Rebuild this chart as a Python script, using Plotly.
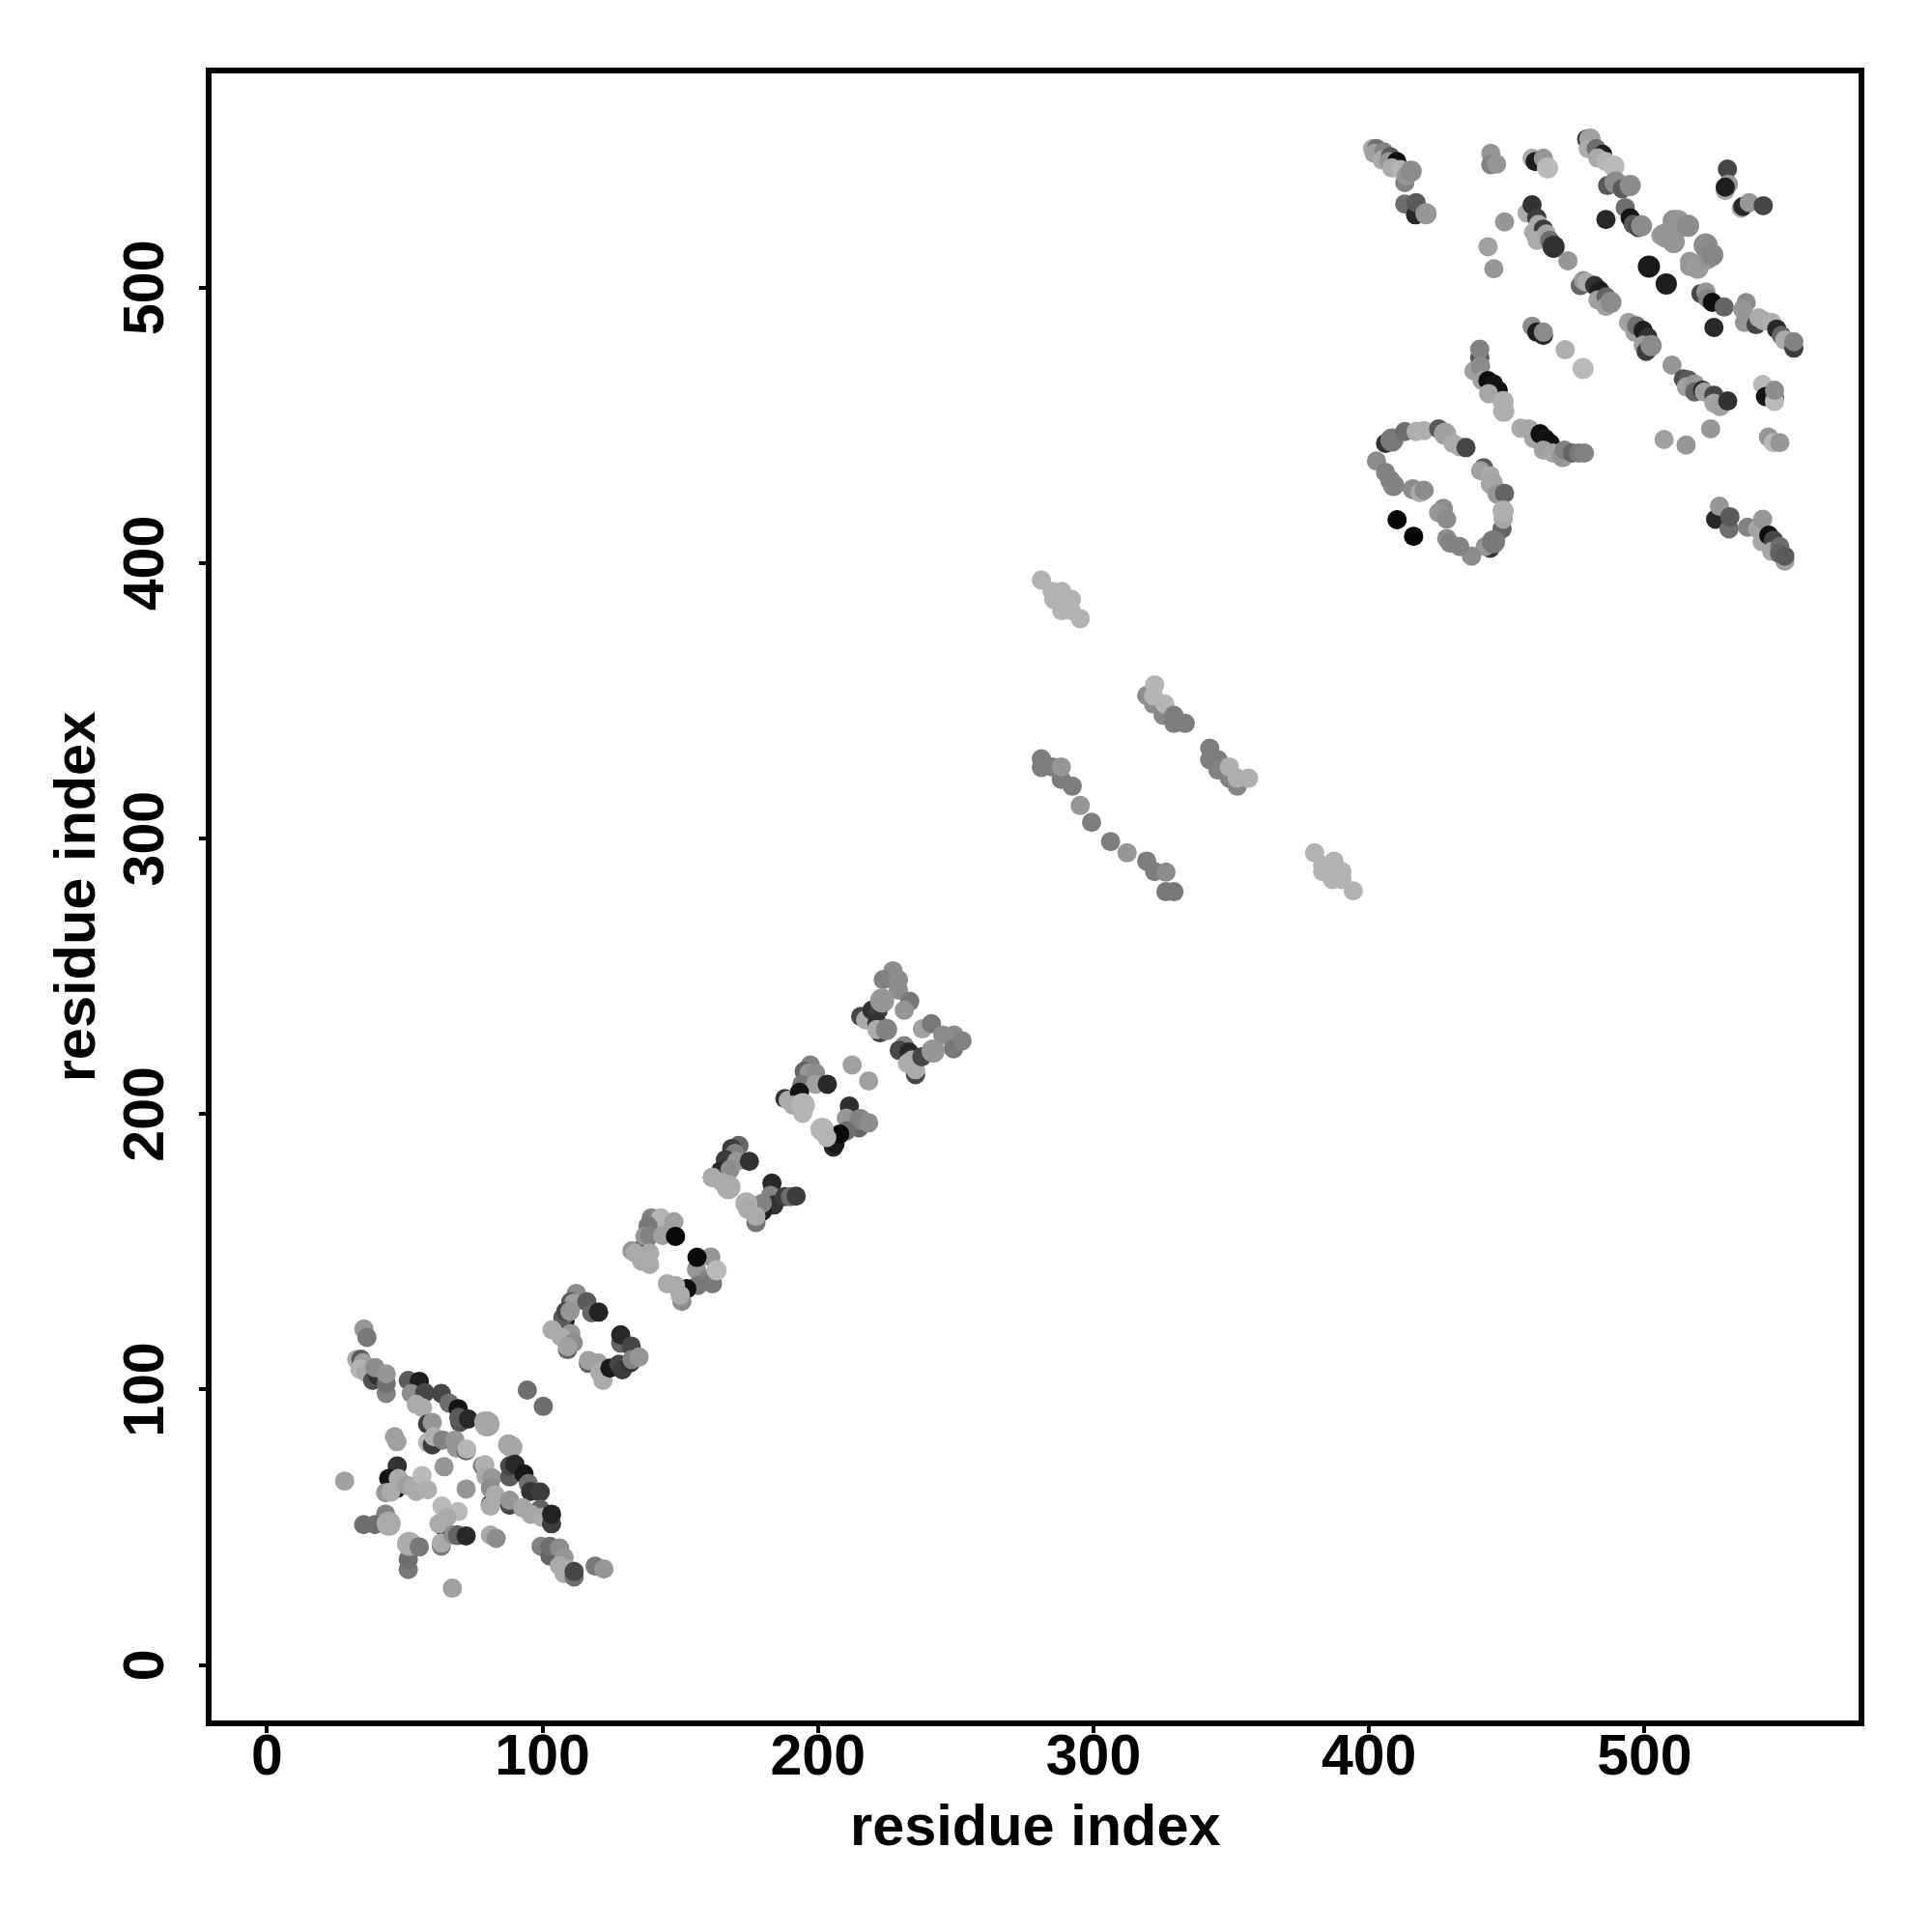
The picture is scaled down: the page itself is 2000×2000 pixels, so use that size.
import plotly.graph_objects as go

# (residue i, residue j, grey shade[, marker size])
cluster_low_a = [
(35.2,122,150),(36.3,118.9,120),(32.6,110.9,170),(34.1,111,90),(34.9,109.7,160),(33.7,107.4,180),(36,106.2,170),
(38.4,103.3,80),(40.2,105.1,50),(39.2,108,140),(43.3,98.6,130),(43.3,102.2,110),(43.3,105.7,150),
(51.3,103.3,90),(55.3,103,30),(52.4,98.6,140),(57.3,98.9,70),(63.3,98.6,70),(66.1,95.1,110),(69.4,93.1,20),
(54.2,94.6,170),(56.5,93.4,170),(58.3,87.5,60),(60,88.1,150),(70,88.1,80),(69.6,89.9,90),(73.1,89.3,40),
(78.7,88.5,165),(79.9,87.5,165,26),(87.7,79.9,165,22),(88.9,79.1,165,22),(46.3,82.9,160),(47.2,81.1,160),
(58.3,80.8,180),(60,79.9,60),(60.6,82.9,175),(63.8,81.7,130),(68.2,81.7,150),(68.8,78.8,150),(72.3,77.8,90),(72.5,78.4,180),
(64.3,72,150),(47.3,72.3,50),(44.2,67.7,20),(47.2,64.2,20),(47.7,67.7,170),(43.1,62.6,150),(45,62.8,170),
(50.7,65.3,160),(53,64.7,170),(54.2,63,170),(56.3,68.8,185),(58.3,63.6,175),(28.2,66.8,160),(72.3,63.9,150),
]
cluster_low_b = [
(78.2,72.3,130),(79.1,72.7,175),(79.5,68.5,170),(81.7,68,150),(81.1,64.2,140),(81.1,58.3,70),(81.1,57.7,170),(82.8,61.8,170),
(88.1,68.3,90),(88.1,72.3,70),(90,72.9,40),(93.3,69.4,25),(94.9,65.9,110),(95.7,63,50),(99.2,62.8,60),
(88.1,58,70),(88.1,59.8,150),(92.8,57.1,165),(99.2,56.6,100),(95.7,54.8,165),(99.8,53.6,170),(103.3,51.3,60),(103.3,54.8,35),
(43.1,54.8,130),(35.1,51,110),(39.2,51,110),(44.2,51.3,170,25),
(65.3,47.8,20),(63.5,57.7,185),(69.4,55.7,185),(65.3,53.6,170),(62.4,51.3,170),(63.3,43.2,120),(63.3,44.3,170),(69,47.2,30),(67.6,47.2,140),(69.2,47,100),(72.3,46.9,40),
(81.1,47.2,170),(83.2,46,140),(51.3,34.7,120),(51.3,38.4,110),(51.6,44,170,25),(55.3,42.9,120),(67.3,27.9,160),
(99.5,43.1,130),(102.7,39.6,100),(102.7,43.1,110),(106.2,42.5,140),(107.9,39,150),(106.2,36.1,170),(109.1,34.9,170),(107.9,33.2,170),(111.5,32,110),(111.5,34,70),(119.1,35.9,120),(122.3,34.9,150),
]
cluster_strand_1 = [
(94.5,99.8,110),(100.3,93.9,110),(112.3,134.9,140),(110.3,131.9,90),(111.4,131.4,160),(116.1,131.9,90),(117.9,127.9,100),(120.4,128.1,35),
(108.2,125,25),(107.4,126.1,90),(108.5,128.4,70),(110,128.4,150),(103.5,121.7,170),(110.3,120.3,150),(106.8,119.1,170),(109.1,114.5,100),(111.2,117,140),(109.1,115.6,160),
(116.7,109.5,100),(116.7,110.6,160),(120.2,109.7,160),(120.8,106.2,170),(122,103.3,170),(124.5,107.8,25),
(128.4,116.8,100),(128.4,119.9,40),(132.2,115.8,70),(127.8,109.2,70),(129,107.2,60),(131.9,109.7,50),(132.5,110.9,130),(135.1,111.8,150),
]
cluster_strand_2 = [
(137.2,152.4,20),(139.5,162.3,130),(143,162.3,180),(138.3,159.4,120),(147.7,160.9,160),(137.2,155.6,150),(138.9,155.9,130),(143.6,155.9,160),(148.3,155.6,10),
(132.5,150.4,150),(133.7,149.5,170),(136,146.6,170),(138.9,149.5,170),(138.9,145.4,170),
(161.1,148.1,150),(155.9,143.6,150),(156.1,148,10),(160,140.1,130),(156.4,137.8,120),(161.7,138.4,120),(163.2,143.3,185,21),(152.4,136.6,15),
(145.3,138.4,170),(148.3,137.8,170),(150.6,132,140),(150,134.3,170),
]
cluster_strand_3 = [
(171.3,188.6,100),(168.7,187.5,60),(169.9,185.7,130),(166.4,183.4,60),(170.5,182.8,150),(175.1,182.8,50),(164.6,179.3,40),(168.1,179.9,140),
(161.7,177,110),(161.7,177,170),(165.2,175.2,170),(167.5,173.5,170,25),
(183.3,174.9,40),(182.8,170.5,130),(184,167,50),(188,170,60),(190,170,110),(192.1,170.2,60),(179.8,164.7,30),(179.8,167.6,130),
(174,167.6,175,23),(174.6,165.3,170),(177.5,160.6,120),(177.5,162.9,170),
]
cluster_strand_4 = [
(197.2,217.8,130),(195,215.5,100),(196.8,214.9,150),(199.1,214.9,140),(194.2,210.8,120),(199.1,210.8,160),(203.4,210.8,40),
(188,205.6,50),(189.2,205,170),(193.3,207.9,20),(191,203.2,170),(194.5,203.2,180,25),(194.5,200.3,180),
(211.4,202.9,45),(210.3,198.5,150),(214.9,195,100),(215.3,198,130,22),(218.4,196.8,140),(210.3,193.9,110),
(205.6,188,40),(206.2,189.2,25),(207.9,192.7,10),(201.5,194.5,180,24),(203.2,191.5,180),(212.4,217.8,160),(218.4,212,160),
]
cluster_strand_5 = [
(227.2,252,140),(223.7,248.8,130),(229.2,248.8,140),(229.2,245,140),(233.3,240.9,120),(231.3,237.7,150),
(215.5,235.4,70),(217.3,234.2,170),(219.6,237.7,50),(221.9,237.7,60),(223.3,241.2,150,25),(221.4,233,50),(222.5,229.5,60),(221.4,230.7,170),(224.9,230.7,130,22),
(237.9,230.9,160),(241.2,232.8,120),(245.3,228.7,140),(249.4,228.7,140),(249.2,223.7,120),(252.3,226.6,130),
(231.3,224.8,130),(229.5,223.1,70),(233,222.5,40),(235.4,214.3,70),(232.5,218.4,170),(234.2,219.6,170),(235.4,216.1,170),(237.7,220.8,70),(241.8,222.9,150,24),
]
cluster_middle = [
(281.1,393.8,178),(285,389.7,178),(288.5,389.7,178),(285.6,386.8,178),(292,386.8,178),(288.5,385.6,178),(288.5,382.7,178),(292,382.7,178),(295.2,379.8,178),
(319.3,351.9,140),(321.8,348.8,140),(325.3,344.7,135),(322.2,355.8,180),(321.8,351.7,180),(325.9,348.8,180),(329.2,344.7,125),(329.2,341.8,125),(333.3,341.8,125),
(342.2,332.8,125),(342.2,328.6,125),(345.2,328.6,125),(345.2,324.8,130),(349.3,321.9,130),(352.2,319,135),(349.3,326,175),(352.2,321.9,175),(356.3,321.9,175),
(281.1,328.9,125),(281.1,325.8,125),(285,326,125),(288.3,321.5,125),(288.3,326,150),(292.3,319,125),(295.2,312,150),(299.3,305.9,125),(306.2,298.9,125),(312.2,294.8,150),
(319.3,291.8,125),(322.2,288,125),(326.3,280.7,120),(329.2,280.7,120),(326.3,287.8,140),
(380.3,294.8,178),(383.2,290.3,178),(387.3,291.8,178),(383.2,288,178),(386.7,288.6,178),(390.2,288,178),(386.7,285.1,178),(390.2,285.1,178),(394.3,281,178),
]
cluster_upper_a = [
(401.3,550.4,170),(402.7,550.4,110),(401.9,548.7,160),(405.4,549.2,130),(404.8,546.3,170),(407.7,547.5,90),(407.2,545.7,150),(410.1,545.7,15),(408.3,543.4,170),
(413,538.1,130),(411.3,542.8,180),(413.6,540.5,150),(415.3,542.2,140,22),(413,530.3,110),(416.9,526.4,40),(417.1,530.8,90),(420.7,526.8,150,22),
(444.2,548.7,150),(444.2,544.6,130),(446.3,544.8,150),(459.2,546.9,170),(460.3,545.7,30),(463.3,546.9,150),(464.8,543.4,185,22),
(457.4,527,170),(459.2,530,50),(460.9,525.3,60),(459.8,520,170),(461.5,522.9,170),(463.3,521.2,60),(461,517.1,170),(464.4,519.4,165),(465.6,517.1,110),(467,514.8,50,23),
(449.2,523.8,150),(443.2,514.8,160),(445.3,506.8,150),(472.2,509.7,150),
(459.2,485.9,140),(463.3,482.6,40),(460.9,483.8,30),(463.3,483.8,140),(471.2,477.4,175),(477.7,470.6,185,22),
]
cluster_upper_b = [
(479,553.9,60),(480.2,553.9,160,22),(479.6,550.4,170),(482.5,550.4,110),(484.8,548.3,30),(483,547,170),(486,545.7,180),(488.9,544,185,22),
(486.6,537,90),(489.5,538.1,140,23),(491.9,535.8,90),(494.8,537,140,22),(493,529,110),(494.8,525.3,20),(495.9,522.9,90),(497.7,521.8,70),(498.9,522.4,140,22),(486,524.7,40),
(505.9,518.9,160),(510.6,516.5,150,23),(507.6,518.9,150,25),(510.6,524.1,145,23),(512.4,524.7,150),(511.1,520.6,150,23),(515.8,522.4,140,23),
(516.4,509.5,150),(516.4,507.7,150),(519.3,507.2,155,23),(522.8,510.7,150,23),(522.2,515.3,140,25),(524.6,511.8,135,23),
(501.6,507.6,25,23),(507.9,501.3,30,22),(520.5,497.8,70),(522.3,498.4,150),(522.8,496.1,130),(524.6,494.6,15),(528.9,492.9,100),(525.2,485.5,40),
(536.9,494.5,140),(535.7,492,150),(536.3,487.3,150),(540.5,486.5,70),(541.5,489,170),(543.3,487.9,170),(546.2,487.3,175),(548,484.9,40),(549.7,482.6,100),(550.9,480.9,170),(554.2,478,60),(554.2,480.3,130),
(530.1,543,70),(530.4,537.5,150),(529.3,535.2,170),(529.3,536.4,30),(535.1,528.8,170),(535.7,529.4,40),(538,530.8,150),(543.1,529.7,70),
(476.7,500.7,100),(477.8,502.5,150),(479,501.9,170),(481.9,500.7,50),(483.7,499,30),(483.1,495.5,160),(486,496.6,100),(486,493.1,160),(487.8,494.6,140,22),
(494.2,487.3,160),(496.5,483.8,160),(497.1,486.1,110),(499.5,484.4,30),(501.2,482,50),(499.5,479.1,160),(500.6,476.8,60),(502.4,478.9,140,22),
]
cluster_upper_c = [
(440.2,474.4,90),(440.2,477.6,130),(438.1,469.7,160),(440.5,471.5,140),(441.1,466.2,160),(443.2,466.2,15),(445.2,465,20),(446.9,462.7,20),(443.4,461.5,165),(448.7,458.6,175,22),(448.9,455.1,175,22),
(455.1,448.9,170),(458,448.7,165),(459.8,445.2,165),(462.1,446.9,15),(463.9,445.2,20),(465.8,443.4,15),(463.3,441,160),(466.8,439.9,165),(470.3,438.7,150,22),(470.9,441,130),(473.8,439.9,100),(476.1,439.9,120),(478.2,439.9,130),
(406,443.4,50),(408.3,444.6,120,24),(413,447.7,110),(417.1,447.7,175),(420,448.1,175),(425.3,448.7,90),(427.6,446.9,160,23),(430.5,443.4,170),(432.9,442.2,170),(435.2,441.9,70),
(402.7,437,140),(406,432.9,130),(407.7,430,130,21),(408.9,428.2,130,22),(415.9,426.8,140,21),(418.5,425.5,170),(420,426.4,140),
(441.6,434.6,90),(440.5,433.5,160),(444,431.7,170),(444.6,428.8,165,23),(446.5,425,150),(449.2,425.3,100),(448.3,412.4,100),(448.7,415.9,165),(448.7,418.9,175,22),
(444,405.4,50),(442.2,406,150),(445.2,407.7,120,24),(437.2,402.5,140),(427,419.8,140),(425.3,418.3,150),(428.2,415.9,140),(428.2,408.9,140),(429.4,407.2,130),(432.9,406,130),
(410.2,415.7,5),(416.2,409.7,5),
]
cluster_upper_d = [
(510,471.8,150),(514.1,466.8,80),(515.9,466.5,90),(515.2,463.9,160),(518.2,465,150),(518.2,462.1,100),(521.1,462.7,40),(521.7,462.1,160),(525.2,460.9,70),(525.2,458,165),(527.5,456.8,160),(530.2,458.8,50),
(542.9,464.8,185),(543.9,460.4,20),(547.2,460.1,70),(547.2,458.6,185),(547.2,462.7,140),
(524,448.7,150),(507.1,444.8,160),(515.1,442.8,150),(545,445.7,150),(546.8,443.7,185),(549.1,443.7,150),
(525.8,415.9,40),(527.2,420.6,150),(530.7,412.4,110),(531,416.8,90),(537.4,413,130),(541,412.4,165),(542.7,407.7,165),(542.9,415.9,150),
(545.1,410.1,15),(546.8,408.3,70),(546.2,404.2,165),(549.1,406,110),(550.9,400.7,160),(549,403.5,100),(550.9,402.5,90),
]
clusters = [cluster_low_a, cluster_low_b, cluster_strand_1, cluster_strand_2, cluster_strand_3,
            cluster_strand_4, cluster_strand_5, cluster_middle, cluster_upper_a, cluster_upper_b,
            cluster_upper_c, cluster_upper_d]
DEFAULT_SIZE = 20
tick_values = [0, 100, 200, 300, 400, 500]
axis_range = [-20.1, 577.7]
axis_label = "residue index"

rows = [r for c in clusters for r in c]
xs = [r[0] for r in rows]
ys = [r[1] for r in rows]
colors = [f"rgb({r[2]},{r[2]},{r[2]})" for r in rows]
sizes = [r[3] if len(r) > 3 else DEFAULT_SIZE for r in rows]

fig = go.Figure(go.Scatter(x=xs, y=ys, mode="markers",
                           marker=dict(color=colors, size=sizes, opacity=1, line=dict(width=0)),
                           hoverinfo="skip", showlegend=False, cliponaxis=False))
FONT = dict(family="Liberation Sans", size=59.5, color="black")
axis = dict(range=axis_range, tickvals=tick_values, ticks="outside", ticklen=7, tickwidth=3.5, tickcolor="black",
            showgrid=False, zeroline=False, showline=True, linecolor="black", linewidth=5.5, mirror=True,
            tickfont=dict(family="Liberation Sans", size=59, color="black", weight="bold"))
fig.update_xaxes(**axis, ticklabelstandoff=-28)
fig.update_yaxes(**axis, tickangle=-90, ticklabelstandoff=14, ticklabelshift=9,
                 title=dict(text=f"<b>{axis_label}</b>", font=FONT, standoff=0))
fig.add_annotation(text=f"<b>{axis_label}</b>", font=FONT, showarrow=False, xref="paper", yref="paper",
                   x=0.5, y=-0.0634, xanchor="center", yanchor="middle")
fig.update_layout(width=2000, height=2000, autosize=False, plot_bgcolor="white", paper_bgcolor="white",
                  margin=dict(l=211, r=84, t=68, b=227, autoexpand=False))
fig.write_html("out.html")
